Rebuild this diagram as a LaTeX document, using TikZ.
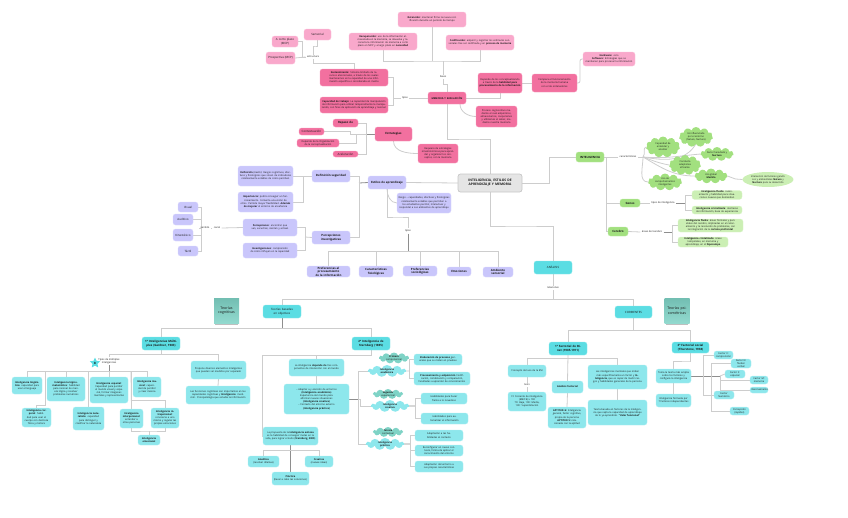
\documentclass[tikz,border=0pt]{standalone}
\usepackage{fontspec}
\setmainfont{Open Sans}
\usetikzlibrary{shapes.symbols,shapes.geometric,backgrounds,calc}
\definecolor{pinkL}{HTML}{F9A8CB}
\definecolor{pinkD}{HTML}{F2709F}
\definecolor{purp}{HTML}{C9C6FB}
\definecolor{tealD}{HTML}{5BDDE3}
\definecolor{tealL}{HTML}{8DE7EC}
\definecolor{tealC}{HTML}{7FD3C6}
\definecolor{grn}{HTML}{A2E07F}
\definecolor{grnL}{HTML}{CBEFB4}
\definecolor{lnc}{HTML}{CDCDCD}
\definecolor{lnd}{HTML}{8E8E8E}
\tikzset{
 box/.style={rectangle,rounded corners=2.5pt,inner sep=0pt,outer sep=0pt,align=center,font=\fontsize{2.45}{3.15}\selectfont,text=black!90},
 hd/.style={font=\fontsize{2.9}{3.5}\selectfont},
 pl/.style={fill=pinkL,draw=pinkL!70!white,line width=.3pt},
 pd/.style={fill=pinkD,draw=pinkD!70!white,line width=.3pt},
 pu/.style={fill=purp,draw=purp!70!white,line width=.3pt},
 td/.style={fill=tealD,draw=tealD!70!white,line width=.3pt},
 tl/.style={fill=tealL,draw=tealL!70!white,line width=.3pt},
 gr/.style={fill=grn,draw=grn!70!white,line width=.3pt},
 gl/.style={fill=grnL,draw=grnL!70!white,line width=.3pt},
 lbl/.style={inner sep=1.5pt,outer sep=0pt,align=center,font=\fontsize{2.5}{3.1}\selectfont,text=black!90},
 ln/.style={draw=lnc,line width=.8pt},
 dk/.style={draw=lnd,line width=.8pt},
 cldtext/.style={inner sep=0pt,align=center,font=\fontsize{2.4}{3}\selectfont,text=black!90},
 sticky/.style={rectangle,inner sep=1pt,outer sep=0pt,align=center,top color=tealC!90!black,bottom color=tealC!85!white,font=\fontsize{3.6}{4.4}\selectfont,text=black!90,minimum width=25pt,minimum height=25pt,text width=23pt},
}
\newcommand\bx[7]{\pgfmathsetmacro\myw{#5-#3}\pgfmathsetmacro\myh{#6-#4}\pgfmathsetmacro\mytw{#5-#3-3}\node[box,#1,minimum width=\myw pt,minimum height=\myh pt,text width=\mytw pt] (#2) at ({(#3+#5)/2},{(#4+#6)/2}) {#7};}
\newcommand\cl[7]{\node[cloud,cloud puffs=11,cloud ignores aspect,inner sep=0pt,outer sep=0pt,fill=#1,minimum width=#5pt,minimum height=#6pt,label={[cldtext]center:{#7}}] (#2) at (#3,#4) {};}
\begin{document}
\begin{tikzpicture}[x=1pt,y=-1pt]
\useasboundingbox (0,0) rectangle (848,517);
% ---- memoria
\bx{pl}{ret}{398}{12}{466}{27}{\textbf{Retención:} mantener firme la nueva codificación durante un período de tiempo}
\bx{pl}{rec}{349}{33}{417}{50}{\textbf{Recuperación:} uso de la información almacenada en la memoria, se devuelve y reconecta la información de memoria a corto plazo en MCP y a largo plazo en \textbf{necesidad}}
\bx{pl}{cod}{446}{35}{514}{50}{\textbf{Codificación:} adquirir y registrar los estímulos sensoriales tras ser codificada y en \textbf{proceso de memoria}}
\bx{pl,hd}{sens}{304}{29}{331}{40}{Sensorial}
\bx{pl,hd}{corto}{272}{36}{298}{47}{A corto plazo\\(MCP)}
\bx{pl,hd}{prosp}{266}{52}{295}{64}{Prospectiva (MCP)}
\node[lbl] (estr) at (313,57) {estructura};
\bx{pd}{sos}{320}{69}{388}{86}{\textbf{Sostenimiento:} Sistema limitado de recursos atencionales, a través de los cuales mantenemos en la capacidad de una información específica o considerada en mente}
\bx{pd}{cap}{320}{97}{388}{113}{\textbf{Capacidad de trabajo:} La capacidad de manipulación de información para utilizar temporalmente la manipulación, con fines de aplicación de aprendizaje y razonar}
\node[lbl] (tiposm) at (405,98) {tipos};
\node[lbl] (fases) at (443,77) {Fases};
\bx{pd}{mem}{428}{92}{466}{104}{\textbf{MEMORIA Y EVALUACIÓN}}
\bx{pd}{dep}{478}{73}{522}{93}{Depende de los conceptualizando a través de la \textbf{habilidad para procesamiento de la información}}
\bx{pd}{com}{532}{74}{577}{92}{Compara el funcionamiento de la memoria humana con el de ordenadores}
\bx{pl}{hard}{583}{52}{635}{66}{\textbf{Hardware:} cero\\\textbf{Software:} Estrategias que se mantienen para procesar la información}
\bx{pd}{proc}{476}{106}{517}{127}{Proceso cognoscitivo mediante el cual adquirimos, almacenamos, cooperamos y utilizamos el saber, mediante nuestra memoria}
% ---- estrategias
\bx{pd,hd}{dp}{333}{119}{358}{127}{\textbf{Repaso de}}
\bx{pd,hd}{cont}{299}{128}{324}{135}{Contextuación}
\bx{pd}{org}{297}{139}{339}{147}{Depende de la Organización de la conceptualización}
\bx{pd,hd}{acel}{333}{151}{358}{157}{Aceleración}
\bx{pd,hd}{est}{375}{127}{412}{141}{\textbf{Estrategias}}
\bx{pd}{req}{418}{144}{458}{163}{Requiere de estrategias mnemotécnicas para aprender y organizar los conceptos, con la memoria}
% ---- estilos
\bx{pu,hd}{defs}{312}{170}{350}{182}{\textbf{Definición seguridad}}
\bx{pu,hd}{estilos}{368}{176}{406}{189}{\textbf{Estilos de aprendizaje}}
\bx{pu}{txt}{397}{193}{451}{213}{Rango – capacidades, afectivas y fisiológicas relativamente estables que permiten a los estudiantes percibir, interactuar y responder a sus ambientes de aprendizaje}
\node[box,fill=black!10,draw=black!22,line width=.7pt,minimum width=64pt,minimum height=18pt,text width=60pt,font=\fontsize{3.3}{4.2}\selectfont] (cen) at (490,183) {\textbf{INTELIGENCIA, ESTILOS DE APRENDIZAJE Y MEMORIA}};
\bx{pu}{d1}{238}{166}{293}{186}{\textbf{Definición} (Keefe): Rasgos cognitivos, afectivos y fisiológicos que sirven de indicadores relativamente estables de cómo perciben}
\bx{pu}{d2}{238}{192}{293}{212}{\textbf{Importancia:} podrá conseguir un funcionamiento. Fomenta una visión de otros. Permite mayor flexibilidad. \textbf{Además de mejorar} el entorno de enseñanza}
\bx{pu}{per}{243}{219}{297}{236}{\textbf{Percepciones}: encontrar que ven, escuchan, sienten y actúan}
\bx{pu}{inv}{243}{243}{297}{258}{\textbf{Investigaciones}: comprensión de cómo influyen en la capacidad}
\bx{pu,hd}{pinv}{312}{231}{350}{244}{\textbf{Percepciones investigativas}}
\bx{pu,hd}{vis}{178}{202}{198}{212}{Visual}
\bx{pu,hd}{aud}{173}{214}{193}{225}{Auditivo}
\bx{pu,hd}{kin}{173}{229}{193}{241}{Kinestésico}
\bx{pu,hd}{tac}{178}{246}{198}{256}{Táctil}
\node[lbl] (sent) at (205,228) {sentido};
\node[lbl] (canal) at (217,228) {canal};
\node[lbl] (tipos2) at (408,231) {tipos};
\bx{pu,hd}{pp}{307}{266}{350}{277}{\textbf{Preferencias al procesamiento de la información}}
\bx{pu,hd}{car}{359}{266}{393}{277}{\textbf{Características fisiológicas}}
\bx{pu,hd}{soc}{403}{266}{437}{276}{\textbf{Preferencias sociológicas}}
\bx{pu,hd}{emo}{447}{267}{471}{276}{\textbf{Emociones}}
\bx{pu,hd}{amb}{483}{267}{513}{277}{\textbf{Ambiente sensorial}}
% ---- inteligencia
\bx{gr,hd}{int}{576}{152}{604}{162}{\textbf{INTELIGENCIA}}
\node[lbl] (cara) at (628,157) {características};
\cl{grn}{ca}{663}{147}{34}{21}{Capacidad de\\entender y\\analizar}
\cl{grn}{cb}{696}{137}{34}{20}{Es influenciada\\por el entorno\\(Nature, Nurture)}
\cl{grn}{cc}{717}{154}{33}{14}{Factor heredado y\\\textbf{Nurture}}
\cl{grn}{cd}{685}{165}{32}{20}{Conducta\\adaptativa\\eficiente}
\cl{grn}{ce}{711}{176}{33}{15}{Uso global\\\textbf{Medida}}
\cl{grn}{cf}{665}{182}{34}{17}{Uso de\\comportamientos\\inteligentes}
\node[ellipse,fill=grnL,inner sep=0pt,outer sep=0pt,minimum width=48pt,minimum height=15pt,text width=36pt,align=center,font=\fontsize{2.4}{3}\selectfont,text=black!90] (ell) at (768,179.5) {Interacción de factores genéticos y ambientales \textbf{Nature} y \textbf{Nurture} para su desarrollo};
\bx{gr,hd}{genes}{620}{199}{640}{207}{\textbf{Genes}}
\bx{gr,hd}{cer}{608}{227}{628}{236}{\textbf{Cerebro}}
\node[lbl] (tint) at (663,203) {tipos de inteligencia};
\node[lbl] (acer) at (652,232) {áreas del cerebro};
\bx{gl}{g1}{692}{191}{742}{199}{\textbf{Inteligencia fluida}: razonamiento y habilidad para situaciones nuevas que demandan}
\bx{gl}{g2}{692}{206}{742}{214}{\textbf{Inteligencia cristalizada}: destrezas de información, base de experiencia}
\bx{gl}{g3}{678}{219}{743}{232}{\textbf{Inteligencia fluida}: áreas frontales y parietales del cerebro, implicadas en el razonamiento y la resolución de problemas, con la integración de la \textbf{corteza prefrontal}}
\bx{gl}{g4}{678}{237}{728}{247}{\textbf{Inteligencia cristalizada}: áreas temporales, en memoria y aprendizaje, en el \textbf{hipocampo}}
% ---- analisis
\bx{td,hd}{ana}{534}{261}{572}{274}{ANÁLISIS}
\node[lbl] (rel) at (553,288) {relaciones};
\node[sticky] (st1) at (226.5,310.5) {Teorías cognitivas};
\node[sticky] (st2) at (677,310.5) {Teorías psicométricas};
\bx{td,hd}{teo}{263}{305}{301}{318}{Teorías basadas en objetivos}
\bx{td,hd}{cor}{615}{306}{652}{318}{CORRIENTES}
% ---- MI
\bx{td,hd}{mi}{142}{337}{180}{350}{\textbf{1ª Inteligencias Múltiples (Gardner, 1983)}}
\bx{td,hd}{str}{352}{337}{390}{350}{\textbf{2ª Inteligencia de Sternberg (1985)}}
\node[star,star points=5,star point ratio=2.1,fill=tealD,inner sep=0pt,minimum size=11pt,font=\fontsize{3}{3}\selectfont] (star) at (95,363) {\textbf{8}};
\node[lbl] (tmi) at (109,361) {Tipos de múltiples\\inteligencias};
\bx{tl}{b1}{12}{377}{42}{394}{\textbf{Inteligencia lingüística}: capacidad para usar el lenguaje}
\bx{tl}{b2}{47}{377}{85}{401}{\textbf{Inteligencia lógico-matemática}: habilidad para razonar de manera lógica y resolver problemas numéricos}
\bx{tl}{b3}{90}{377}{128}{403}{\textbf{Inteligencia espacial}: Capacidad para percibir el mundo visual y espacial, formar imágenes mentales y representarlas}
\bx{tl}{b4}{133}{377}{161}{397}{\textbf{Inteligencia musical}: capacidad de percibir y crear música}
\bx{tl}{b5}{22}{408}{51}{427}{\textbf{Inteligencia corporal}: habilidad para usar el cuerpo con destreza física y motora}
\bx{tl}{b6}{73}{407}{104}{430}{\textbf{Inteligencia naturalista}: capacidad para distinguir y clasificar la naturaleza}
\bx{tl}{b7}{120}{409}{143}{428}{\textbf{Inteligencia interpersonal}: entender a otras personas}
\bx{tl}{b8}{151}{408}{179}{428}{\textbf{Inteligencia intrapersonal}: conocerse a uno mismo y regular las propias emociones}
\bx{tl}{b9}{138}{435}{160}{445}{\textbf{Inteligencia emocional}}
\bx{tl}{pro}{191}{361}{246}{379}{Propone diversos elementos inteligentes que pueden ser medidos por separado}
\bx{tl}{pro2}{186}{386}{250}{404}{Las funciones cognitivas son importantes en las capacidades cognitivas y \textbf{Inteligencia}: medición. Psicopatología que estudia la información}
% ---- Sternberg
\bx{tl}{c1}{289}{359}{344}{376}{La inteligencia \textbf{depende de} tres componentes de interacción con el mundo}
\bx{tl}{c2}{284}{384}{349}{414}{– Adaptar a y elección de entornos\\\textbf{(Inteligencia académica)}\\Experiencia del mundo para afrontar nuevas situaciones\\\textbf{(Inteligencia creativa)}\\– Contexto del entorno externo\\\textbf{(Inteligencia práctica)}}
\bx{tl}{sa}{263}{427}{318}{445}{La propuesta de la \textbf{Inteligencia exitosa} es la habilidad de conseguir metas en la vida, para lograr el éxito (\textbf{Sternberg, 2000})}
\bx{tl}{an}{248}{456}{279}{467}{\textbf{Analítica}\\(resolver dilemas)}
\bx{tl}{cr}{305}{456}{333}{467}{\textbf{Creativa}\\(nuevas ideas)}
\bx{tl}{pr}{272}{472}{309}{485}{\textbf{Práctica}\\(llevar a cabo las soluciones)}
\cl{tealC}{k1}{394}{358}{30}{11}{\textbf{Primera}\\componencial}
\cl{tealL}{kk1}{387}{371}{38}{12}{\textbf{Inteligencia}\\\textbf{académica}}
\cl{tealC}{k2}{388}{394}{30}{10}{\textbf{Segunda}\\experiencial}
\cl{tealL}{kk2}{390}{406}{38}{12}{\textbf{Inteligencia}\\\textbf{creativa}}
\cl{tealC}{k3}{388}{432}{30}{10}{\textbf{Tercera}\\contextual}
\cl{tealL}{kk3}{385}{444}{38}{12}{\textbf{Inteligencia}\\\textbf{práctica}}
\bx{tl}{e1}{414}{354}{462}{365}{\textbf{Elaboración de procesos} generales que se miden en pruebas}
\bx{tl}{e2}{414}{372}{470}{385}{\textbf{Procesamiento y adquisición} Codificación, combinación y comparación, facultades a aprender de conocimientos}
\bx{tl}{e3}{421}{393}{467}{404}{Habilidades para hacer frente a lo novedoso}
\bx{tl}{e4}{421}{413}{468}{424}{Habilidades para automatizar el información}
\bx{tl}{e5}{415}{430}{463}{441}{Adaptación a las habilidades al contexto}
\bx{tl}{e6}{415}{445}{463}{456}{Reconfigurar un nuevo contexto, forma de aplicar el conocimiento del entorno}
\bx{tl}{e7}{415}{461}{463}{472}{Adaptación del entorno a sus propias características}
% ---- Factorial
\bx{td,hd}{bin}{549}{342}{587}{355}{\textbf{1ª Factorial de Binet (1905-1911)}}
\bx{td,hd}{thu}{672}{342}{709}{353}{\textbf{2ª Factorial social (Thurstone, 1938)}}
\bx{tl}{x1}{508}{365}{546}{377}{Concepto del uso de la EM}
\node[lbl] (tests) at (527,385) {tests};
\bx{tl}{x2}{508}{392}{546}{411}{CI: Cociente de inteligencia\\(EM/CE) x 100\\70: Baja, 100: Media,\\130: Superdotación}
\bx{tl}{af}{552}{381}{583}{393}{\textbf{Análisis factorial}}
\bx{tl}{ap}{548}{407}{586}{428}{\textbf{APTITUD G:} Inteligencia general, factor cognitivo, propia de la persona\\\textbf{APTITUD S:} relacionada con la aptitud}
\bx{tl}{sp}{588}{365}{647}{389}{Las inteligencias mentales que miden más específicamente un factor y \textbf{Inteligencia}, que es capaz de medir rasgos y habilidades generales de la persona}
\bx{tl}{sp2}{588}{400}{647}{425}{Teoría basada en factores de la inteligencia que capta la capacidad de aprendizaje de lo ya aprendido. \textbf{``Valor funcional''}}
\bx{tl}{t1}{656}{369}{691}{383}{Toma la teoría más amplia sobre los factores y configura la inteligencia}
\bx{tl}{t2}{656}{394}{691}{407}{Inteligencia formada por 7 factores independientes}
\bx{tl}{s1}{714}{351}{733}{359}{Factor V:\\comprensión}
\bx{tl}{s2}{731}{359}{751}{368}{Factor N: fluidez\\verbal}
\bx{tl}{s3}{725}{370}{745}{378}{Factor S:\\espacial}
\bx{tl}{s4}{750}{376}{768}{384}{Factor M:\\memoria}
\bx{tl}{s5}{750}{387}{768}{393}{Razonamiento}
\bx{tl}{s6}{714}{391}{734}{399}{Factor Numérico}
\bx{tl}{s7}{730}{407}{749}{415}{Percepción\\(rapidez)}
% ---- connectors
\begin{scope}[on background layer]
\fill[black!25] (215,322) rectangle (238,324.5);
\fill[black!25] (666,322) rectangle (688,324.5);
\coordinate (jtop) at (443,61);
\draw[ln] (ret.south) -- (ret.south |- jtop);
\draw[ln] (rec.south) |- (jtop) -| (cod.south);
\draw[ln] (jtop) -- (fases.north);
\draw[ln] (fases.south) -- ++(0,5) -| (mem.north);
\draw[ln] (mem.east) -| (dep.south);
\draw[ln] (dep.east) -- (com.west);
\coordinate (jh) at (580,59);
\draw[ln,rounded corners=2pt] (com.east) -| (jh) -- (hard.west);
\coordinate (jm) at (460,104);
\draw[ln] (jm) to[out=-90,in=180] (proc.west);
\coordinate (jt) at (393,98);
\draw[ln] (mem.west) -- (tiposm.east);
\draw[ln] (tiposm.west) -- (jt);
\draw[ln] (sos.east) -| (jt);
\draw[ln] (cap.east) -| (jt);
\coordinate (js) at (315,46);
\draw[ln] (sens.south) |- (js) -| (estr.north);
\coordinate (jc) at (302,57);
\draw[ln] (corto.east) -| (jc) -- (estr.west);
\draw[ln] (prosp.east) -- (estr.west);
\draw[ln] (estr.south) |- ($(sos.north)+(0,-6)$) -- (sos.north);
\coordinate (j139) at (470,139);
\draw[ln] (mem.south) |- (j139) -| (cen.north);
\coordinate (jE) at (366,134);
\draw[dk] (est.west) -- (jE);
\draw[ln] (dp.east) -| (jE);
\draw[ln] (acel.east) -| (jE);
\draw[ln] (cont.east) -- ++(26,0) |- (jE);
\draw[ln] (org.east) -| ($(jE)+(-10,0)$);
\draw[ln] (est.south) to[out=-90,in=180] (req.west);
\coordinate (jE2) at (359,183);
\draw[dk] (estilos.west) -- (jE2);
\draw[ln] (estilos.east) -- (cen.west);
\draw[ln] (defs.east) -| (jE2);
\draw[ln] (pinv.east) -| (jE2);
\coordinate (jd) at (303,176);
\draw[ln] (d1.east) -- (defs.west);
\draw[ln] (d2.east) -| (jd);
\coordinate (jp) at (305,237);
\draw[ln] (jp) -- (pinv.west);
\draw[ln] (per.east) -| (jp);
\draw[ln] (inv.east) -| (jp);
\draw[ln] (per.west) -- (canal.east);
\draw[ln] (canal.west) -- (sent.east);
\coordinate (jv) at (201,228);
\draw[ln] (sent.west) -- (jv);
\draw[ln] (vis.east) -| (jv);
\draw[ln] (tac.east) -| (jv);
\draw[ln] (aud.east) -| (jv);
\draw[ln] (kin.east) -| (jv);
\draw[ln] (estilos.south) to[out=-90,in=180] (txt.west);
\coordinate (j217) at (398,217);
\draw[ln] (estilos.south) |- (j217) -| (tipos2.north);
\coordinate (jb) at (408,251);
\draw[dk] (tipos2.south) -- (jb);
\foreach \n in {pp,car,soc,emo,amb} \draw[ln] (\n.north) |- (jb);
\coordinate (jr) at (549,183);
\draw[ln] (cen.east) -- (jr) |- (int.west);
\coordinate (j226) at (520,226);
\draw[ln] (cen.south) |- (j226) -| (ana.north);
% inteligencia
\draw[ln] (int.east) -- (cara.west);
\coordinate (ji) at (606,157);
\draw[ln] (ji) |- (genes.west);
\draw[ln] (ji) |- (cer.west);
\coordinate (jcl) at (643,157);
\draw[ln] (cara.east) -- (jcl);
\draw[ln] (jcl) to[out=45,in=190] (ca.west);
\draw[ln] (jcl) to[out=-10,in=240] (cb.south);
\draw[ln] (jcl) to[out=-5,in=185] (cc.west);
\draw[ln] (jcl) to[out=-20,in=170] (cd.west);
\draw[ln] (jcl) to[out=-30,in=180] (ce.west);
\draw[ln] (jcl) to[out=-90,in=180] (cf.west);
\draw[ln] (ce.east) -- ++(8,3) -- (ell.west);
\coordinate (jg) at (685,203);
\draw[ln] (genes.east) -- (tint.west);
\draw[dk] (tint.east) -- (jg);
\draw[ln] (g1.west) -| (jg);
\draw[ln] (g2.west) -| (jg);
\coordinate (jf) at (672,232);
\draw[ln] (cer.east) -- (acer.west);
\draw[dk] (acer.east) -- (jf);
\draw[ln] (g3.west) -| (jf);
\draw[ln] (g4.west) -| (jf);
% analisis
\draw[ln] (ana.south) -- (rel.north);
\coordinate (j299) at (553,299);
\draw[ln] (rel.south) -- (j299);
\draw[ln] (teo.north) |- (j299);
\draw[ln] (cor.north) |- (j299);
\coordinate (j330) at (633.5,330);
\draw[ln] (cor.south) -- (j330);
\draw[ln] (bin.north) |- (j330);
\draw[ln] (thu.north) |- (j330);
\coordinate (j328) at (282,328);
\draw[dk] (teo.south) -- (j328);
\draw[ln] (mi.north) |- (j328);
\draw[ln] (str.north) |- (j328);
% MI
\coordinate (jm2) at (161,354);
\draw[ln] (mi.south) -- (jm2);
\draw[ln] (jm2) -| (tmi.north);
\draw[ln] (jm2) -| (pro.north);
\draw[ln] (pro.south) -- (pro2.north);
\coordinate (jt2) at (109,371);
\draw[dk] (tmi.south) -- (jt2);
\foreach \n in {b1,b2,b3,b4,b6} \draw[ln] (\n.north) |- (jt2);
\coordinate (j5) at (45,371);
\draw[ln] (j5) |- ($(b5.north)+(0,-3)$) -- (b5.north);
\coordinate (j7) at (131,371);
\draw[ln] (j7) -- (b7.north);
\draw[ln] (j7) |- ($(b8.north)+(0,-8)$) -- (b8.north);
\draw[ln] (b7.south) |- ($(b9.north)+(0,-4)$) -| (b8.south);
\draw[ln] (b9.north) -- ++(0,-4);
% Sternberg
\coordinate (j355) at (316.5,355);
\draw[ln] (str.south) |- (j355);
\draw[ln] (j355) -- (c1.north);
\coordinate (jl) at (262,355);
\draw[ln] (j355) -- (jl) |- (sa.west);
\draw[ln] (c1.south) -- (c2.north);
\coordinate (jc2) at (358,399);
\draw[dk] (c2.east) -- (jc2);
\draw[ln] (jc2) |- (kk1.west);
\draw[ln] (jc2) |- (kk3.west);
\draw[ln] (jc2) -- ++(2,0) |- (kk2.west);
\coordinate (jx1) at (409,371);
\draw[ln] (kk1.east) -- (jx1);
\draw[ln] (e1.west) -| (jx1);
\draw[ln] (e2.west) -| (jx1);
\coordinate (jx2) at (415,406);
\draw[dk] (kk2.east) -- (jx2);
\draw[ln] (e3.west) -| (jx2);
\draw[ln] (e4.west) -| (jx2);
\coordinate (jx3) at (410,444);
\draw[dk] (kk3.east) -- (jx3);
\draw[ln] (e5.west) -| (jx3);
\draw[ln] (e6.west) -| (jx3);
\draw[ln] (e7.west) -| (jx3);
\coordinate (jsa) at (290.5,450);
\draw[dk] (sa.south) -- (pr.north);
\draw[ln] (an.north) |- (jsa);
\draw[ln] (cr.north) |- (jsa);
% factorial
\coordinate (j358) at (568,358);
\draw[ln] (bin.south) -- (af.north);
\draw[ln] (x1.north) |- (j358);
\draw[ln] (sp.north) |- (j358);
\draw[ln] (x1.south) -- (tests.north);
\draw[ln] (tests.south) -- (x2.north);
\draw[ln] (af.south) -- (ap.north);
\draw[ln] (sp.south) -- (sp2.north);
\coordinate (j361) at (690,361);
\draw[ln] (thu.south) |- (j361) -| (t1.north);
\draw[ln] (t1.south) -- (t2.north);
\coordinate (jA) at (703,376);
\coordinate (jB) at (711,376);
\coordinate (jC) at (720,376);
\draw[dk] (t1.east) -- (jC);
\draw[ln] (s1.west) -| (jA);
\draw[ln] (s6.west) -| (jA);
\draw[ln] (s2.west) -| (jB);
\draw[ln] (s7.west) -| (jB);
\draw[ln] (jC) -- (s3.west);
\draw[ln] (s4.west) -| (jC);
\draw[ln] (s5.west) -| (jC);
\end{scope}
\end{tikzpicture}
\end{document}
